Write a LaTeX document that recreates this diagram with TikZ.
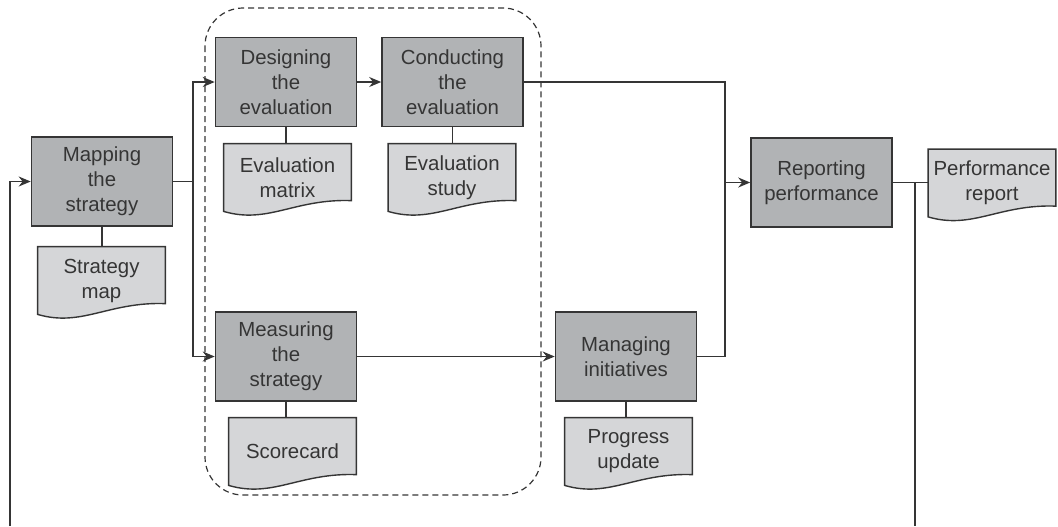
\documentclass[tikz,border=0pt]{standalone}
\usepackage{fontspec}
\setmainfont{Liberation Sans}
\usetikzlibrary{arrows.meta,backgrounds}
\definecolor{procgray}{HTML}{B1B3B5}
\definecolor{docgray}{HTML}{D5D6D8}
\definecolor{inkgray}{HTML}{353535}
\tikzset{
    every node/.style={font=\fontsize{10.2}{12.5}\selectfont, text=inkgray},
    procnode/.style={rectangle, draw=inkgray, fill=procgray, line width=0.8pt, minimum width=70.5pt, minimum height=44.5pt, align=center, inner sep=0pt},
    docnode/.style={rectangle, minimum width=63.5pt, minimum height=33.5pt, align=center, inner sep=0pt},
    link/.style={draw=inkgray, line width=0.7pt},
    arr/.style={link, -{Stealth[length=6pt, width=5pt]}},
    }
% document symbol with a wavy lower edge
\newcommand{\drawdoc}[1]{%
  \draw[link, fill=docgray] (#1.north west) -- (#1.north east) -- ([yshift=-28.5pt]#1.north east)
    .. controls +(-28.6pt,1pt) and +(22.2pt,-6.5pt) .. (#1.south west) -- cycle;}

\begin{document}
\begin{tikzpicture}[x=0.5pt, y=-0.5pt]
\useasboundingbox (0,0) rectangle (1058,526);

\draw[inkgray, line width=0.6pt, dash pattern=on 3pt off 2pt, rounded corners=19pt] (205,8) rectangle (541,495);

\node[procnode] (mapping) at (102,181.5) {Mapping\\the\\strategy};
\node[procnode] (designing) at (286,82) {Designing\\the\\evaluation};
\node[procnode] (conducting) at (452.5,82) {Conducting\\the\\evaluation};
\node[procnode] (measuring) at (286,356.5) {Measuring\\the\\strategy};
\node[procnode] (managing) at (626,356.5) {Managing\\initiatives};
\node[procnode] (reporting) at (821.5,182.5) {Reporting\\performance};

\node[docnode] (smap) at (101.5,280.5) {Strategy\\map};
\node[docnode] (evmat) at (287.5,177.5) {Evaluation\\matrix};
\node[docnode] (evstudy) at (452,177.5) {Evaluation\\study};
\node[docnode] (score) at (292.5,451.5) {Scorecard};
\node[docnode] (progress) at (628.5,451.5) {Progress\\update};
\node[docnode] (perfrep) at (992,183) {Performance\\report};

\begin{scope}[on background layer]
\foreach \d in {smap,evmat,evstudy,score,progress,perfrep} {\drawdoc{\d}}
\end{scope}

\coordinate (split) at (193,181.5);
\coordinate (merge) at (725,182.5);
\coordinate (fbright) at (915,526);
\coordinate (fbleft) at (10,526);

\draw[link] (mapping.south) -- (mapping.south |- smap.north);
\draw[link] (designing.south) -- (designing.south |- evmat.north);
\draw[link] (conducting.south) -- (conducting.south |- evstudy.north);
\draw[link] (measuring.south) -- (measuring.south |- score.north);
\draw[link] (managing.south) -- (managing.south |- progress.north);

\draw[link] (mapping.east) -- (split);
\draw[arr] (split) |- (designing.west);
\draw[arr] (split) |- (measuring.west);
\draw[arr] (designing.east) -- (conducting.west);
\draw[arr] (measuring.east) -- (managing.west);
\draw[link] (conducting.east) -| (merge) |- (managing.east);
\draw[arr] (merge) -- (reporting.west);
\draw[link] (reporting.east) -- (reporting.east -| perfrep.west);
\draw[link] (reporting.east -| fbright) -- (fbright);
\draw[arr] (fbleft) |- (mapping.west);
\end{tikzpicture}
\end{document}
